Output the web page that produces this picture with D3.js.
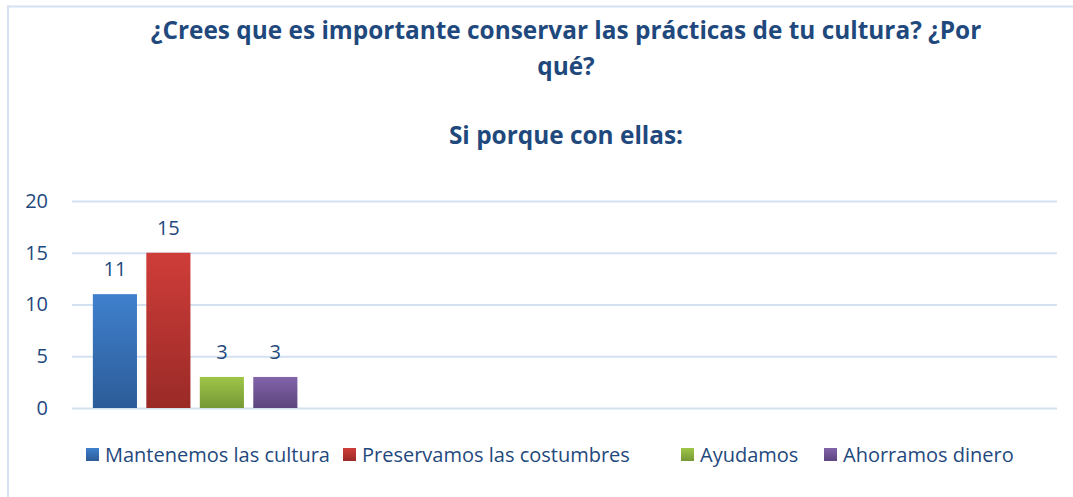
<!DOCTYPE html>
<html>
<head>
<meta charset="utf-8">
<script src="https://cdn.jsdelivr.net/npm/d3@7"></script>
<style>
  body { margin: 0; background: #fff; }
  text { font-family: 'Open Sans', 'Noto Sans', sans-serif; fill: #1f497d; }
</style>
</head>
<body>
<div id="graph"></div>
<script>
    // data
    const titleLines = ['¿Crees que es importante conservar las prácticas de tu cultura? ¿Por', 'qué?'];
    const subtitle = 'Si porque con ellas:';
    const categories = ['1', '2', '3', '4'];
    const seriesNames = ['Mantenemos las cultura', 'Preservamos las costumbres', 'Ayudamos', 'Ahorramos dinero'];
    const mantenemos = [11, null, null, null];
    const preservamos = [15, null, null, null];
    const ayudamos = [3, null, null, null];
    const ahorramos = [3, null, null, null];
    const yTicks = [0, 5, 10, 15, 20];

    const seriesValues = [mantenemos, preservamos, ayudamos, ahorramos];
    const colors = [
        ['#3f80cd', '#2c5c98'],
        ['#cf3d39', '#9a2a27'],
        ['#9ec648', '#769835'],
        ['#8264aa', '#5d457d']
    ];
    const textColor = '#1f497d';

    const w = 1073;
    const h = 497;
    const padding = {top: 201, right: 16, bottom: 89, left: 72};

    const svg = d3.select('#graph')
        .append('svg')
        .attr('width', w)
        .attr('height', h);

    const defs = svg.append('defs');
    colors.forEach(function (c, i) {
        const g = defs.append('linearGradient')
            .attr('id', 'grad' + i)
            .attr('x1', 0).attr('y1', 0).attr('x2', 0).attr('y2', 1);
        g.append('stop').attr('offset', '0%').attr('stop-color', c[0]);
        g.append('stop').attr('offset', '100%').attr('stop-color', c[1]);
    });

    // frame (only top and left edges show in the crop)
    svg.append('path')
        .attr('d', 'M8,' + (h + 2) + 'V6.5H' + (w + 2))
        .attr('fill', 'none')
        .attr('stroke', '#d3e1f1')
        .attr('stroke-width', 2);

    const xScale = d3.scaleBand()
        .domain(categories)
        .range([padding.left, w - padding.right]);

    const xInner = d3.scaleBand()
        .domain(d3.range(seriesNames.length))
        .range([0, xScale.bandwidth()])
        .paddingInner(0.175)
        .paddingOuter(0.39);

    const yScale = d3.scaleLinear()
        .domain([0, 20])
        .range([h - padding.bottom, padding.top]);

    const yAxis = d3.axisLeft(yScale)
        .tickValues(yTicks)
        .tickSize(-(w - padding.left - padding.right))
        .tickPadding(24);

    const yG = svg.append('g')
        .attr('transform', 'translate(' + padding.left + ',0)')
        .call(yAxis);
    yG.select('.domain').remove();
    yG.selectAll('.tick line').attr('stroke', '#d3e1f1').attr('stroke-width', 2);
    yG.selectAll('.tick text')
        .attr('fill', textColor)
        .style('font-size', '20px')
        .style('font-family', "'Open Sans', sans-serif");

    const barData = [];
    seriesValues.forEach(function (vals, s) {
        vals.forEach(function (v, c) {
            if (v !== null) barData.push({cat: categories[c], s: s, v: v});
        });
    });

    svg.selectAll('rect.bar')
        .data(barData)
        .enter()
        .append('rect')
        .attr('class', 'bar')
        .attr('x', (d) => xScale(d.cat) + xInner(d.s))
        .attr('y', (d) => yScale(d.v))
        .attr('width', xInner.bandwidth())
        .attr('height', (d) => yScale(0) - yScale(d.v))
        .attr('fill', (d) => 'url(#grad' + d.s + ')');

    svg.selectAll('text.label')
        .data(barData)
        .enter()
        .append('text')
        .attr('class', 'label')
        .attr('x', (d) => xScale(d.cat) + xInner(d.s) + xInner.bandwidth() / 2)
        .attr('y', (d) => yScale(d.v) - 18)
        .attr('text-anchor', 'middle')
        .style('font-size', '20px')
        .text((d) => d.v);

    // title
    const title = svg.append('text')
        .attr('x', 566)
        .attr('y', 39)
        .attr('text-anchor', 'middle')
        .style('font-size', '24.4px')
        .style('font-weight', 'bold');
    titleLines.forEach(function (line, i) {
        title.append('tspan')
            .attr('x', 566)
            .attr('dy', i === 0 ? 0 : 36)
            .text(line);
    });
    svg.append('text')
        .attr('x', 566)
        .attr('y', 144)
        .attr('text-anchor', 'middle')
        .style('font-size', '24.4px')
        .style('font-weight', 'bold')
        .text(subtitle);

    // legend
    const legendX = [86, 343, 681, 824];
    const legend = svg.selectAll('g.legend')
        .data(seriesNames)
        .enter()
        .append('g')
        .attr('class', 'legend')
        .attr('transform', (d, i) => 'translate(' + legendX[i] + ',455)');
    legend.append('rect')
        .attr('x', 0)
        .attr('y', -7)
        .attr('width', 13)
        .attr('height', 13)
        .attr('fill', (d, i) => 'url(#grad' + i + ')');
    legend.append('text')
        .attr('x', 19)
        .attr('y', 0)
        .attr('dy', '0.35em')
        .style('font-size', '20px')
        .text((d) => d);
</script>
</body>
</html>
